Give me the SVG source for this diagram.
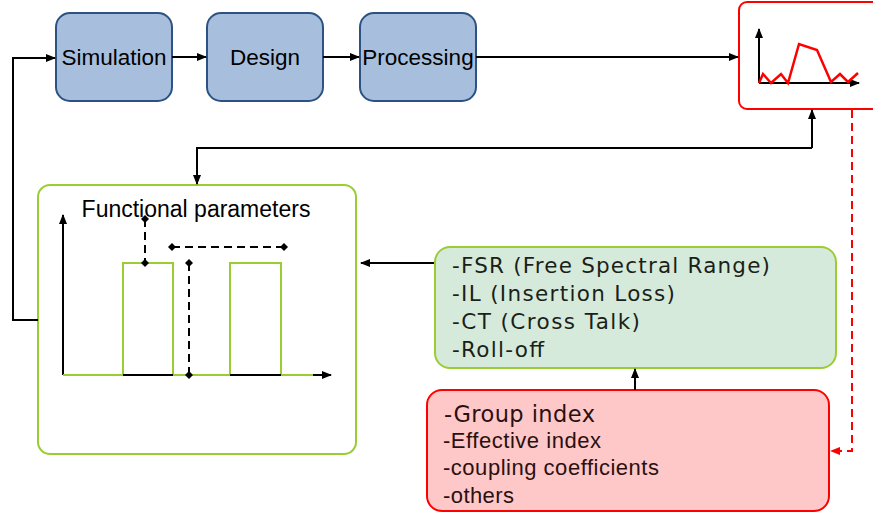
<svg xmlns="http://www.w3.org/2000/svg" width="873" height="515" viewBox="0 0 873 515">
<defs>
<style>
.blue{fill:#a7bfdd;stroke:#2c5283;stroke-width:2}
.lbl{font-family:"Liberation Sans",Arial,sans-serif;font-size:22.5px;fill:#000}
.ver{font-family:"DejaVu Sans",Verdana,sans-serif;fill:#1a1f1a}
.ar{font-family:"Liberation Sans",Arial,sans-serif;fill:#2a1010}
.conn{fill:none;stroke:#000;stroke-width:2}
.dash{fill:none;stroke:#000;stroke-width:2;stroke-dasharray:8,5}
</style>
<marker id="ah" markerWidth="10" markerHeight="8" refX="9" refY="4" orient="auto" markerUnits="userSpaceOnUse"><path d="M0,0 L10,4 L0,8 z" fill="#000"/></marker>
<marker id="ahr" markerWidth="10" markerHeight="8" refX="9" refY="4" orient="auto" markerUnits="userSpaceOnUse"><path d="M0,0 L10,4 L0,8 z" fill="#f00"/></marker>
<marker id="dm" markerWidth="8" markerHeight="8" refX="4" refY="4" orient="auto" markerUnits="userSpaceOnUse"><path d="M4,0 L8,4 L4,8 L0,4 z" fill="#000"/></marker>
</defs>

<g id="simulation"><rect class="blue" x="56" y="13" width="116" height="88" rx="14"/><text class="lbl" x="114" y="65" text-anchor="middle">Simulation</text></g>
<g id="design"><rect class="blue" x="207" y="13" width="116" height="88" rx="14"/><text class="lbl" x="265" y="65" text-anchor="middle">Design</text></g>
<g id="processing"><rect class="blue" x="360" y="13" width="116" height="88" rx="14"/><text class="lbl" x="418" y="65" text-anchor="middle">Processing</text></g>

<g id="spectrum">
<rect x="739" y="2" width="150" height="107" rx="8" fill="#fff" stroke="#f00" stroke-width="2"/>
<path d="M759,83 V29" class="conn" marker-end="url(#ah)"/>
<path d="M759,83 H859" class="conn" marker-end="url(#ah)"/>
<polyline points="759,83 763,74 771,83 781,74 788,83 799,44 817,50 831,82 840,74 848,82 858,73" fill="none" stroke="#f00" stroke-width="2.5"/>
</g>

<g id="functional">
<rect x="38" y="185" width="318" height="269" rx="12" fill="#fff" stroke="#9acd32" stroke-width="2"/>
<text class="lbl" x="196" y="217" text-anchor="middle" style="font-size:23px">Functional parameters</text>
<path d="M63,375 V215" class="conn" marker-end="url(#ah)"/>
<path d="M63,375 H331" class="conn" marker-end="url(#ah)"/>
<polyline points="63,375 123,375 123,263 173,263 173,375 230,375 230,263 281,263 281,375 313,375" fill="none" stroke="#9acd32" stroke-width="2"/>
<path d="M123,375 H173 M230,375 H281" class="conn"/>
<path d="M145,219 V263" class="dash" marker-start="url(#dm)" marker-end="url(#dm)"/>
<path d="M172,247 H284" class="dash" marker-start="url(#dm)" marker-end="url(#dm)"/>
<path d="M189,263 V375" class="dash" marker-start="url(#dm)" marker-end="url(#dm)"/>
</g>

<g id="metrics">
<rect x="435" y="247" width="401" height="121" rx="15" fill="#d6eadb" stroke="#9acd32" stroke-width="2"/>
<text class="ver" font-size="21.5" x="452" y="273" textLength="318" lengthAdjust="spacing">-FSR (Free Spectral Range)</text>
<text class="ver" font-size="21.5" x="452" y="301" textLength="223" lengthAdjust="spacing">-IL (Insertion Loss)</text>
<text class="ver" font-size="21.5" x="452" y="329" textLength="188" lengthAdjust="spacing">-CT (Cross Talk)</text>
<text class="ver" font-size="21.5" x="452" y="357" textLength="92" lengthAdjust="spacing">-Roll-off</text>
</g>

<g id="physical">
<rect x="427" y="390" width="402" height="121" rx="15" fill="#ffc8c8" stroke="#f00" stroke-width="2"/>
<text class="ver" font-size="22.5" x="444" y="422" textLength="151" lengthAdjust="spacing" style="fill:#2a1010">-Group index</text>
<text class="ar" font-size="22" x="443" y="448" textLength="158" lengthAdjust="spacing">-Effective index</text>
<text class="ar" font-size="22" x="443" y="475" textLength="216" lengthAdjust="spacing">-coupling coefficients</text>
<text class="ar" font-size="22" x="443" y="503" textLength="71" lengthAdjust="spacing">-others</text>
</g>

<g id="connectors">
<path d="M172,57 H206" class="conn" marker-end="url(#ah)"/>
<path d="M323,57 H359" class="conn" marker-end="url(#ah)"/>
<path d="M476,57 H738" class="conn" marker-end="url(#ah)"/>
<path d="M38,320 H13 V58 H55" class="conn" marker-end="url(#ah)"/>
<path d="M812,148 V110" class="conn" marker-end="url(#ah)"/>
<path d="M812,148 H197 V184" class="conn" marker-end="url(#ah)"/>
<path d="M434,263 H361" class="conn" marker-end="url(#ah)"/>
<path d="M635,390 V369" class="conn" marker-end="url(#ah)"/>
<path d="M852,110 V451 H831" fill="none" stroke="#f00" stroke-width="2" stroke-dasharray="8,5" marker-end="url(#ahr)"/>
</g>
</svg>
